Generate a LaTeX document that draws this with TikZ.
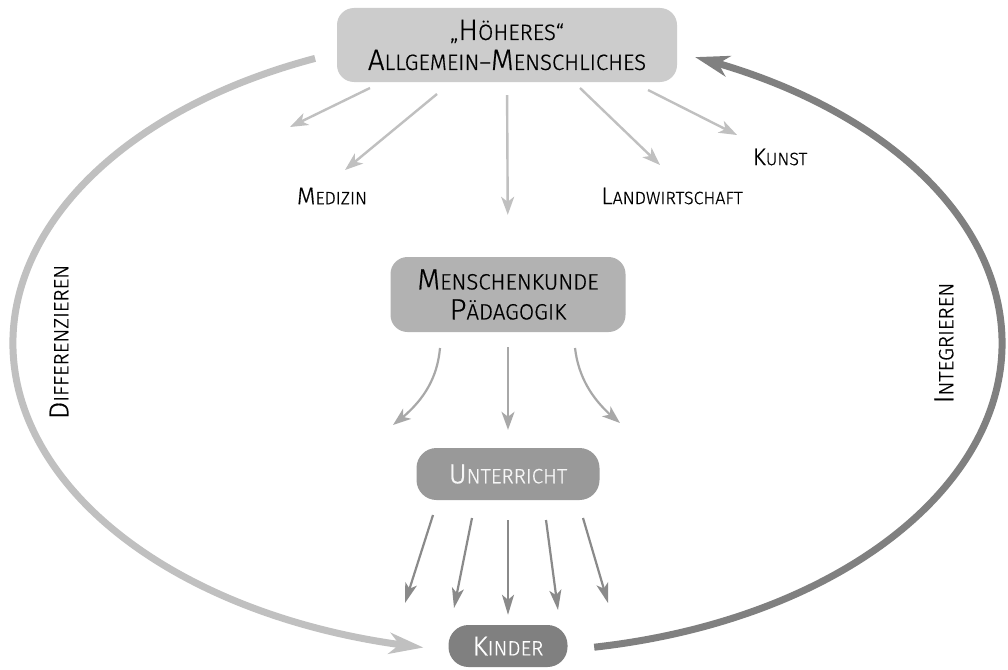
\documentclass[tikz,border=0pt]{standalone}
\usepackage{fontspec}
\setmainfont{Fira Sans Light}[FakeBold=0.6,AutoFakeBold=0.6]
\usetikzlibrary{arrows.meta,bending}
\definecolor{gTop}{HTML}{CCCCCC}
\definecolor{gMk}{HTML}{B2B2B2}
\definecolor{gUnt}{HTML}{999999}
\definecolor{gKin}{HTML}{808080}
\definecolor{aLight}{HTML}{C0C0C0}
\definecolor{aMid}{HTML}{A8A8A8}
\definecolor{aDark}{HTML}{8A8A8A}
\definecolor{arcLight}{HTML}{C0C0C0}
\definecolor{arcDark}{HTML}{808080}
\newcommand{\bx}[2]{{\fontsize{29.5}{31}\selectfont #1}{\fontsize{22.2}{31}\selectfont #2}}
\newcommand{\lb}[2]{{\fontsize{24}{26}\selectfont #1}{\fontsize{17.8}{26}\selectfont #2}}
\newcommand{\sd}[2]{{\fontsize{27.5}{28}\selectfont #1}{\fontsize{20.7}{28}\selectfont #2}}
\begin{document}
\begin{tikzpicture}[x=1pt,y=-1pt,
  boxstyle/.style={rounded corners=17, inner sep=0pt, align=center, font=\fontsize{22.2}{30}\selectfont\bfseries},
  lblstyle/.style={inner sep=0pt, anchor=center, font=\bfseries},
  thinlight/.style={draw=aLight, line width=2.4, -{Stealth[length=18, width=13, inset=5]}},
  thinmid/.style={draw=aMid, line width=2.2, -{Stealth[length=18, width=13, inset=5]}},
  thindark/.style={draw=aDark, line width=2.2, -{Stealth[length=20, width=12, inset=5]}},
  bigarc/.style={line width=7, -{Stealth[length=34, width=21, inset=10]}}
]
\useasboundingbox[fill=white] (0,0) rectangle (1008,669);

% boxes
\node[boxstyle, fill=gTop, minimum width=340, minimum height=74] (top) at (507,45)
  {„\bx{H}{ÖHERES}“\\\bx{A}{LLGEMEIN–}\bx{M}{ENSCHLICHES}};
\node[boxstyle, fill=gMk, minimum width=235, minimum height=75] (mk) at (508,294.5)
  {\bx{M}{ENSCHENKUNDE}\\\bx{P}{ÄDAGOGIK}};
\node[boxstyle, rounded corners=20, fill=gUnt, text=white!94!gray, minimum width=183, minimum height=52] (unt) at (508,474)
  {\sd{U}{NTERRICHT}};
\node[boxstyle, rounded corners=20, fill=gKin, text=white, minimum width=119, minimum height=42] (kin) at (508,646)
  {\sd{K}{INDER}};

% labels
\node[lblstyle] (med) at (332,196) {\lb{M}{EDIZIN}};
\node[lblstyle] (land) at (672,196) {\lb{L}{ANDWIRTSCHAFT}};
\node[lblstyle] (kunst) at (780,157) {\lb{K}{UNST}};
\node[lblstyle, rotate=90] (diff) at (59,342) {\sd{D}{IFFERENZIEREN}};
\node[lblstyle, rotate=90] (integ) at (944,343) {\sd{I}{NTEGRIEREN}};

% coordinates for free ends
\coordinate (a1s) at (370,88);  \coordinate (a1e) at (290,127);
\coordinate (a2s) at (437,94);  \coordinate (a2e) at (345,170);
\coordinate (a4s) at (580,88);  \coordinate (a4e) at (660,165);
\coordinate (a5s) at (648,90);  \coordinate (a5e) at (737,135);
\coordinate (m1s) at (440,348); \coordinate (m1e) at (393,425);
\coordinate (m3s) at (575,348); \coordinate (m3e) at (620,423);
\coordinate (u1s) at (433,515); \coordinate (u1e) at (405,603);
\coordinate (u2s) at (472,518); \coordinate (u2e) at (454,608);
\coordinate (u4s) at (546,520); \coordinate (u4e) at (558,610);
\coordinate (u5s) at (583,518); \coordinate (u5e) at (608,603);
\coordinate (ls) at (315.1,58.4);
\coordinate (rs) at (594.2,647.2);

% arrows from top
\draw[thinlight] (a1s) -- (a1e);
\draw[thinlight] (a2s) -- (a2e);
\draw[thinlight, shorten <=13, shorten >=42] (top.south) -- (mk.north);
\draw[thinlight] (a4s) -- (a4e);
\draw[thinlight] (a5s) -- (a5e);

% arrows from Menschenkunde
\draw[thinmid] (m1s) .. controls (437,382) and (420,405) .. (m1e);
\draw[thinmid, shorten <=15, shorten >=18] (mk.south) -- (unt.north);
\draw[thinmid] (m3s) .. controls (579,382) and (597,405) .. (m3e);

% arrows from Unterricht
\draw[thindark] (u1s) -- (u1e);
\draw[thindark] (u2s) -- (u2e);
\draw[thindark, shorten <=20, shorten >=10] (unt.south) -- (kin.north);
\draw[thindark] (u4s) -- (u4e);
\draw[thindark] (u5s) -- (u5e);

% big arcs
\draw[bigarc, draw=arcLight] (ls) arc[start angle=-112.9, end angle=-260.2, x radius=494.5, y radius=309];
\draw[bigarc, draw=arcDark] (rs) arc[start angle=79.9, end angle=-67.7, x radius=494.5, y radius=309];
\end{tikzpicture}
\end{document}
